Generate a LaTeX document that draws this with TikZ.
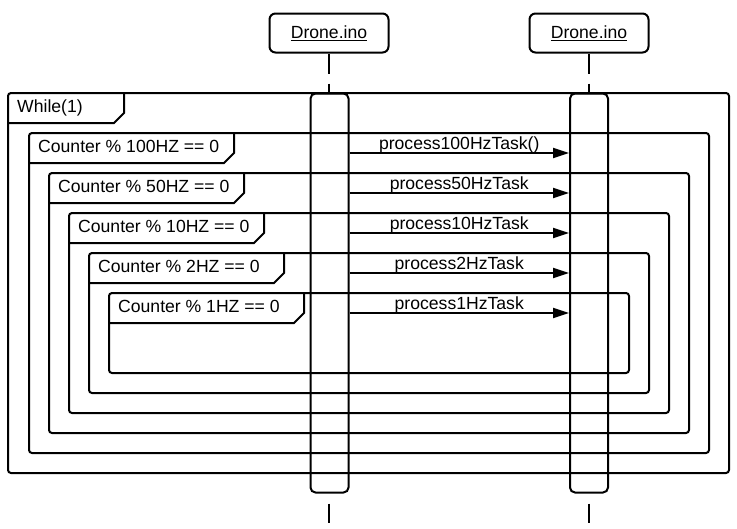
\documentclass[tikz,border=0pt]{standalone}
\usepackage{fontspec}
\setmainfont{Liberation Sans}
\usetikzlibrary{arrows.meta,calc}
\tikzset{
  lw/.style={line width=2pt},
  objbox/.style={draw, lw, rounded corners=6pt, minimum width=119pt, minimum height=39pt, inner sep=0pt},
  actbar/.style={draw, lw, rounded corners=5pt, minimum width=38pt, minimum height=399pt, inner sep=0pt},
  framebox/.style={draw, lw, rounded corners=3pt},
  tabline/.style={draw, lw},
  tabtext/.style={anchor=base west, inner sep=0pt, font=\fontsize{17.6pt}{20pt}\selectfont},
  msglabel/.style={anchor=base, inner sep=0pt, font=\fontsize{17.6pt}{20pt}\selectfont},
  msg/.style={lw, -{Triangle[length=16pt,width=10pt]}},
  lifeline/.style={lw, dash pattern=on 20pt off 10pt},
  lifelineend/.style={lw, dash pattern=on 20pt off 10pt, dash phase=20pt},
}
\begin{document}
\begin{tikzpicture}[x=1pt,y=-1pt]
\useasboundingbox (0,0) rectangle (737,528);
\fill[white] (0,0) rectangle (737,528);

% objects
\node[objbox] (objA) at (329,33) {\fontsize{17.6pt}{20pt}\selectfont\underline{Drone.ino}};
\node[objbox] (objB) at (589,33) {\fontsize{17.6pt}{20pt}\selectfont\underline{Drone.ino}};

% activation bars
\node[actbar] (barA) at (329.5,293) {};
\node[actbar] (barB) at (589,293) {};

% lifelines
\coordinate (endA) at (329,523);
\coordinate (endB) at (589,523);
\draw[lifeline] (objA.south) -- (objA.south |- barA.north);
\draw[lifeline] (objB.south) -- (objB.south |- barB.north);
\draw[lifelineend] (barA.south -| objA.south) -- (endA);
\draw[lifelineend] (barB.south -| objB.south) -- (endB);

% frames
\draw[framebox] (8,93) rectangle (729,473);
\draw[tabline] (8,123) -- (114,123) -- (124,113) -- (124,93);
\node[tabtext] (tW) at (17,112) {While(1)};

\draw[framebox] (29,133) rectangle (709,453);
\draw[tabline] (29,163) -- (224,163) -- (234,153) -- (234,133);
\node[tabtext] (t100) at (38,152) {Counter \% 100HZ == 0};

\draw[framebox] (49,173) rectangle (689,433);
\draw[tabline] (49,203) -- (234,203) -- (244,193) -- (244,173);
\node[tabtext] (t50) at (58,192) {Counter \% 50HZ == 0};

\draw[framebox] (69,213) rectangle (669,413);
\draw[tabline] (69,243) -- (254,243) -- (264,233) -- (264,213);
\node[tabtext] (t10) at (78,232) {Counter \% 10HZ == 0};

\draw[framebox] (89,253) rectangle (649,393);
\draw[tabline] (89,283) -- (274,283) -- (284,273) -- (284,253);
\node[tabtext] (t2) at (98,272) {Counter \% 2HZ == 0};

\draw[framebox] (109,293) rectangle (629,373);
\draw[tabline] (109,323) -- (294,323) -- (304,313) -- (304,293);
\node[tabtext] (t1) at (118,312) {Counter \% 1HZ == 0};

% messages
\foreach \yy/\lab/\nm in {153/process100HzTask()/m1, 193/process50HzTask/m2, 233/process10HzTask/m3, 273/process2HzTask/m4, 313/process1HzTask/m5}{
  \coordinate (\nm s) at (barA.east |- 0,\yy);
  \coordinate (\nm e) at (barB.west |- 0,\yy);
  \draw[msg] (\nm s) -- (\nm e);
  \node[msglabel] (\nm l) at ($(\nm s)!0.5!(\nm e)$) [yshift=4pt] {\lab};
}
\end{tikzpicture}
\end{document}
